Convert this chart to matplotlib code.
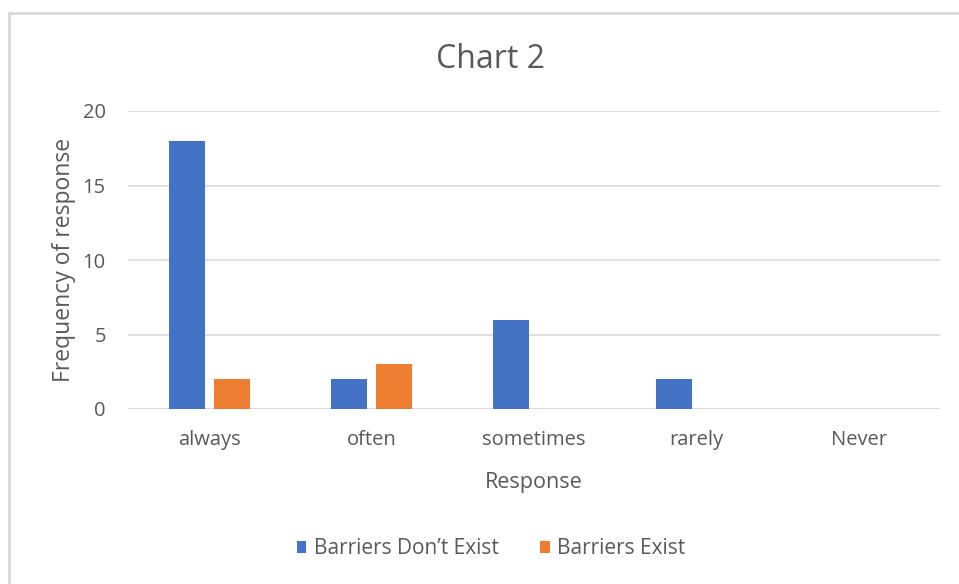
import numpy as np
import matplotlib.pyplot as plt
from matplotlib.lines import Line2D

categories = ["always", "often", "sometimes", "rarely", "Never"]
dont_exist = [18, 2, 6, 2, 0]
exist = [2, 3, 0, 0, 0]
series_names = ["Barriers Don\u2019t Exist", "Barriers Exist"]
yticks = [0, 5, 10, 15, 20]

plt.rcParams['font.family'] = ['Open Sans', 'DejaVu Sans']
grey = "#595959"

fig = plt.figure(figsize=(9.59, 5.84), dpi=100)
ax = fig.add_axes([128/959, 1-409/584, 812/959, 298/584])

x = np.arange(len(categories))
w = 0.222
off = 0.139
b1 = ax.bar(x - off, dont_exist, w, color="#4472C4", label=series_names[0], zorder=3)
b2 = ax.bar(x + off, exist, w, color="#ED7D31", label=series_names[1], zorder=3)

ax.set_xlim(-0.5, len(categories) - 0.5)
ax.set_ylim(0, 20)
ax.set_yticks(yticks)
ax.set_xticks(x)
ax.set_xticklabels(categories)
ax.tick_params(axis="both", length=0, labelsize=14.5, colors=grey)
ax.tick_params(axis="x", pad=15)
ax.tick_params(axis="y", pad=16)
ax.yaxis.grid(True, color="#d9d9d9", linewidth=1.2, zorder=0)
for s in ax.spines.values():
    s.set_visible(False)
ax.axhline(0, color="#d9d9d9", linewidth=1.2, zorder=2)

ax.set_xlabel("Response", fontsize=15.5, color=grey, labelpad=16)
ax.set_ylabel("Frequency of response", fontsize=16.5, color=grey, labelpad=5)
fig.text(490/959, 1-59/584, "Chart 2", fontsize=23, color=grey, ha="center", va="center")

fig.legend(handles=[b1, b2], loc="center", bbox_to_anchor=(491/959, 1-549/584),
           ncol=2, frameon=False, fontsize=15, labelcolor=grey,
           handlelength=0.45, handleheight=0.5, handletextpad=0.35, columnspacing=2.0)

# outer chart border (left and top visible)
fig.add_artist(Line2D([9/959, 9/959], [0, 1-13/584], color="#d9d9d9", linewidth=2))
fig.add_artist(Line2D([9/959, 1], [1-13/584, 1-13/584], color="#d9d9d9", linewidth=2))

fig.savefig("out.png", dpi=100)
